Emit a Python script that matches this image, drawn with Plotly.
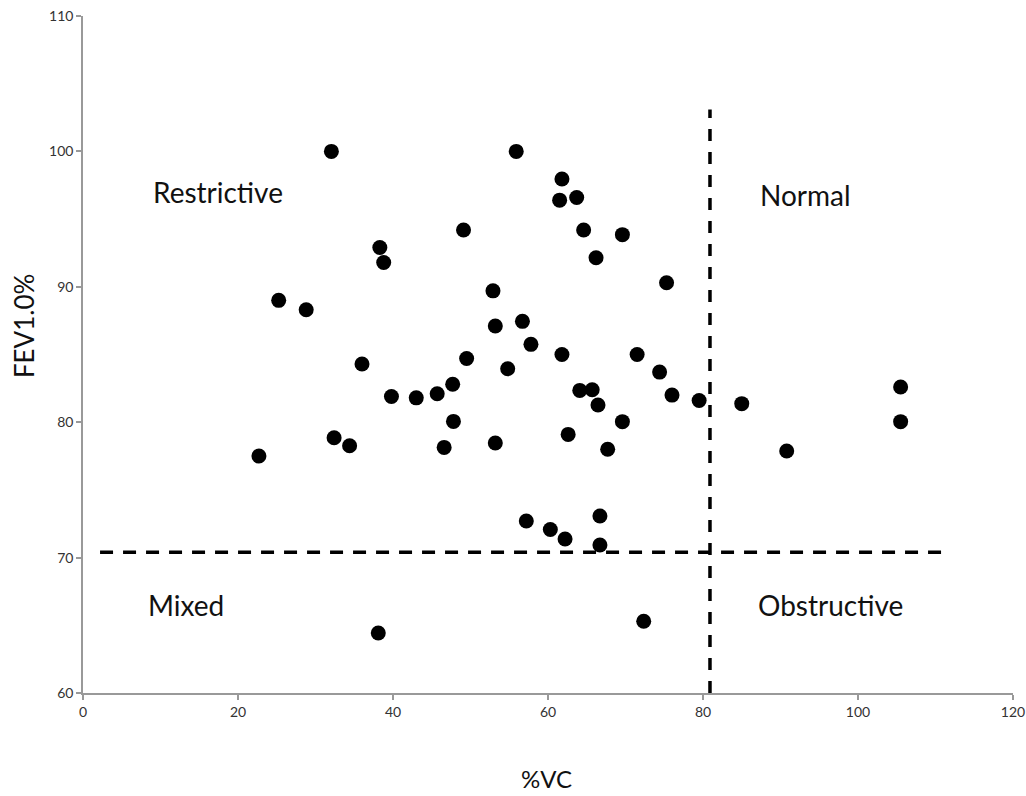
import plotly.graph_objects as go

# %VC values
vc = [32.05, 55.9, 61.8, 61.5, 63.7, 64.6, 69.6, 66.2, 75.3, 49.1,
      38.3, 38.8, 25.25, 28.8, 36.0, 39.8, 43.0, 45.7, 47.7, 49.5,
      52.9, 53.2, 47.8, 32.4, 34.4, 22.7, 46.6, 53.2, 56.7, 57.8,
      61.8, 71.5, 54.8, 74.4, 64.1, 65.7, 66.45, 76.0, 79.5, 69.6,
      62.6, 67.7, 85.0, 90.8, 105.5, 105.5, 57.2, 60.3, 62.2, 66.7,
      66.7, 72.35, 38.1]
# FEV1.0% values
fev = [100.0, 100.0, 97.96, 96.4, 96.6, 94.2, 93.85, 92.15, 90.3, 94.2,
       92.9, 91.8, 89.0, 88.3, 84.3, 81.9, 81.8, 82.1, 82.8, 84.7,
       89.7, 87.1, 80.06, 78.85, 78.26, 77.5, 78.14, 78.46, 87.45, 85.75,
       85.0, 85.0, 83.95, 83.7, 82.35, 82.4, 81.27, 82.0, 81.6, 80.04,
       79.1, 78.0, 81.37, 77.87, 82.6, 80.04, 72.7, 72.08, 71.37, 73.07,
       70.93, 65.3, 64.43]

# threshold lines
h_line_x = [2.2, 111.8]
h_line_y = [70.4, 70.4]
v_line_x = [80.9, 80.9]
v_line_y = [60.0, 103.1]

# region labels
region_labels = ["Restrictive", "Normal", "Mixed", "Obstructive"]
region_x = [17.4, 93.2, 13.3, 96.5]
region_y = [97.0, 96.8, 66.5, 66.5]

x_ticks = [0, 20, 40, 60, 80, 100, 120]
y_ticks = [60, 70, 80, 90, 100, 110]

x_title = "%VC"
y_title = "FEV1.0%"

FONT = "Lato, Open Sans, sans-serif"

fig = go.Figure()
fig.add_trace(go.Scatter(x=h_line_x, y=h_line_y, mode="lines",
                         line=dict(color="black", width=3.5, dash="13px,10px"),
                         hoverinfo="skip", showlegend=False))
fig.add_trace(go.Scatter(x=v_line_x, y=v_line_y, mode="lines",
                         line=dict(color="black", width=3.5, dash="12px,11px"),
                         hoverinfo="skip", showlegend=False))
fig.add_trace(go.Scatter(x=vc, y=fev, mode="markers",
                         marker=dict(color="black", size=15, line=dict(width=0)),
                         showlegend=False, cliponaxis=False))

for t, x, y in zip(region_labels, region_x, region_y):
    fig.add_annotation(x=x, y=y, text=t, showarrow=False,
                       font=dict(family=FONT, size=28, color="#111"))

# axis titles as annotations (the reference's y title is not centred on the axis)
fig.add_annotation(xref="paper", yref="paper", x=0.498, y=-0.127, text=x_title,
                   xanchor="center", yanchor="middle", borderpad=0,
                   showarrow=False, font=dict(family=FONT, size=24, color="#111"))
fig.add_annotation(xref="paper", yref="paper", x=-0.0634, y=0.542, text=y_title,
                   xanchor="center", yanchor="middle",
                   textangle=-90, showarrow=False, font=dict(family=FONT, size=26, color="#111"))

axis_common = dict(showgrid=False, zeroline=False, showline=True,
                   linecolor="#999999", linewidth=1.5, automargin=False,
                   ticks="outside", ticklen=5, tickcolor="#999999", tickwidth=1.5,
                   tickfont=dict(family=FONT, size=14, color="#333"))

fig.update_xaxes(range=[0, 120], tickvals=x_ticks, **axis_common)
fig.update_yaxes(range=[60, 110], tickvals=y_ticks, **axis_common)

fig.update_layout(width=1026, height=796, plot_bgcolor="white", paper_bgcolor="white",
                  margin=dict(l=83, r=13, t=16, b=103))

fig.write_html("out.html", config={"displayModeBar": False},
               post_script="document.body.style.margin='0';document.body.style.overflow='hidden';")
